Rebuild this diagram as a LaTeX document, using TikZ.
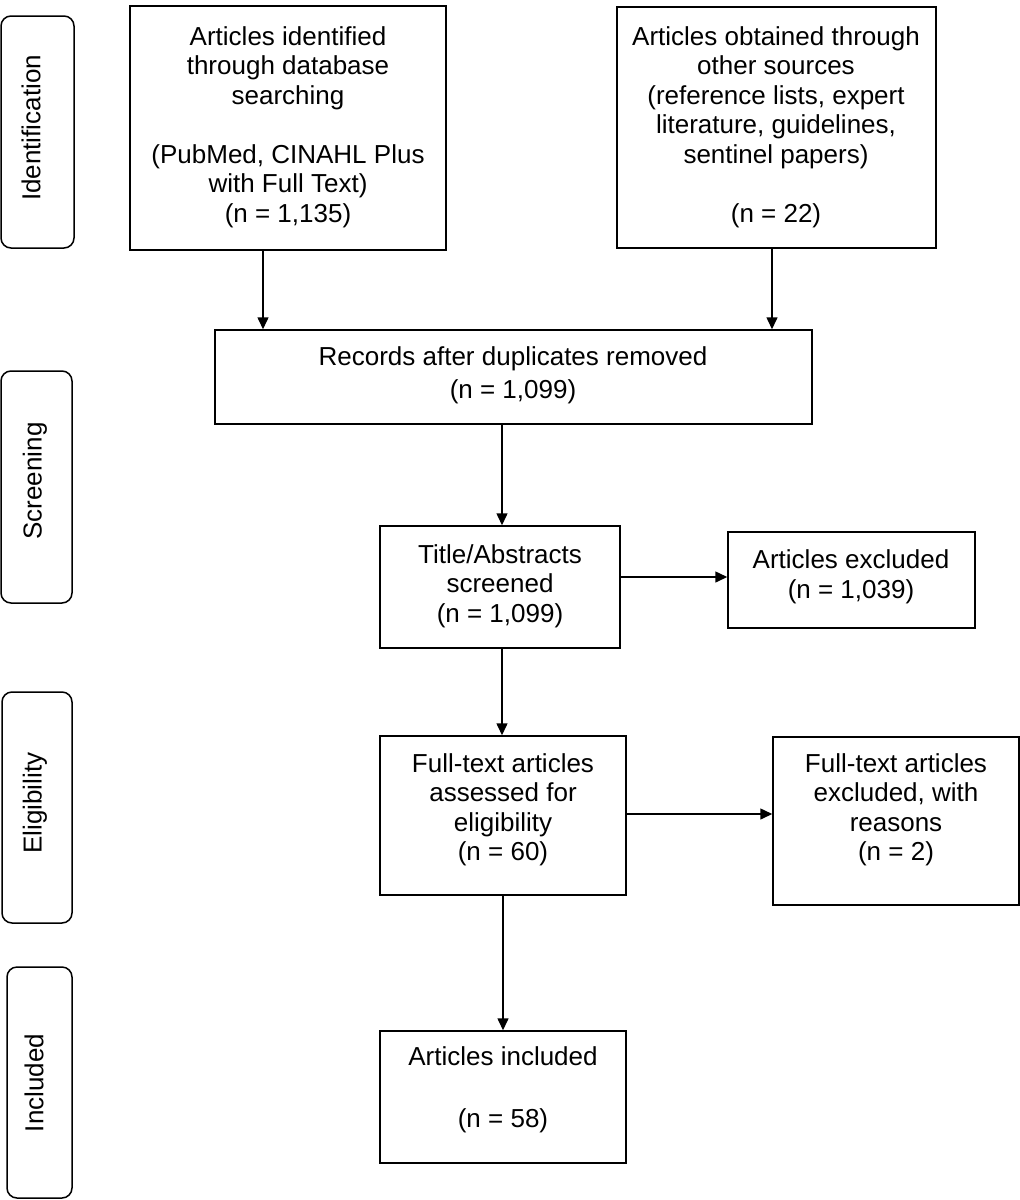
\documentclass[tikz,border=0pt]{standalone}
\usepackage{fontspec}
\setmainfont{Liberation Sans}
\usetikzlibrary{arrows.meta}
\begin{document}
\begin{tikzpicture}[x=1pt,y=-1pt,
  box/.style={draw, line width=1.5pt, rectangle, inner sep=0pt},
  stagebox/.style={draw, line width=1.5pt, rectangle, rounded corners=10pt, inner sep=0pt},
  txt/.style={align=center, inner sep=0pt, font=\fontsize{26}{29.5}\selectfont},
  stagetxt/.style={inner sep=0pt, rotate=90, font=\fontsize{26}{29.5}\selectfont},
  arr/.style={line width=1.5pt, -{Triangle[length=12pt,width=11pt]}}]
\fill[white] (0,0) rectangle (1020,1200);
\useasboundingbox (0,0) rectangle (1020,1200);

% stage labels
\node[stagebox, minimum width=73pt, minimum height=232pt] (S1) at (37.5,132) {};
\node[stagebox, minimum width=71pt, minimum height=232pt] (S2) at (36.5,487) {};
\node[stagebox, minimum width=70pt, minimum height=231pt] (S3) at (37,807.5) {};
\node[stagebox, minimum width=65pt, minimum height=231pt] (S4) at (39.5,1082.5) {};
\node[stagetxt] (tS1) at (31,128) {Identification};
\node[stagetxt] (tS2) at (35,481) {Screening};
\node[stagetxt] (tS3) at (35,803) {Eligibility};
\node[stagetxt] (tS4) at (34,1083) {Included};

% boxes
\node[box, minimum width=316pt, minimum height=244pt] (A) at (288,128) {};
\node[box, minimum width=319pt, minimum height=241pt] (B) at (776.5,127.5) {};
\node[box, minimum width=597pt, minimum height=94pt] (C) at (513.5,377) {};
\node[box, minimum width=240pt, minimum height=122pt] (D) at (500,587) {};
\node[box, minimum width=247pt, minimum height=96pt] (E) at (851.5,580) {};
\node[box, minimum width=246pt, minimum height=159pt] (F) at (503,815.5) {};
\node[box, minimum width=246pt, minimum height=168pt] (G) at (896,821) {};
\node[box, minimum width=246pt, minimum height=132pt] (H) at (503,1097) {};

% texts
\node[txt] (tA) at (288,127) {Articles identified\\through database\\searching\\[29.5pt](PubMed, CINAHL Plus\\with Full Text)\\(n = 1,135)};
\node[txt] (tB) at (776,127) {Articles obtained through\\other sources\\(reference lists, expert\\literature, guidelines,\\sentinel papers)\\[29.5pt](n = 22)};
\node[txt, font=\fontsize{26}{33}\selectfont] (tC) at (513,375) {Records after duplicates removed\\(n = 1,099)};
\node[txt] (tD) at (500,586) {Title/Abstracts\\screened\\(n = 1,099)};
\node[txt] (tE) at (851,577) {Articles excluded\\(n = 1,039)};
\node[txt] (tF) at (503,810) {Full-text articles\\assessed for\\eligibility\\(n = 60)};
\node[txt] (tG) at (896,810) {Full-text articles\\excluded, with\\reasons\\(n = 2)};
\node[txt] (tH) at (503,1090) {Articles included\\[33pt](n = 58)};

% connectors
\draw[arr] ([xshift=-25pt]A.south) -- ([xshift=-25pt]A.south |- C.north);
\draw[arr] ([xshift=-4.5pt]B.south) -- ([xshift=-4.5pt]B.south |- C.north);
\draw[arr] ([xshift=2pt]D.north |- C.south) -- ([xshift=2pt]D.north);
\draw[arr] ([yshift=3pt]E.west -| D.east) -- ([yshift=3pt]E.west);
\draw[arr] ([xshift=2pt]D.south) -- ([xshift=2pt]D.south |- F.north);
\draw[arr] ([yshift=1.5pt]F.east) -- ([yshift=1.5pt]F.east -| G.west);
\draw[arr] (F.south) -- (H.north);
\end{tikzpicture}
\end{document}
